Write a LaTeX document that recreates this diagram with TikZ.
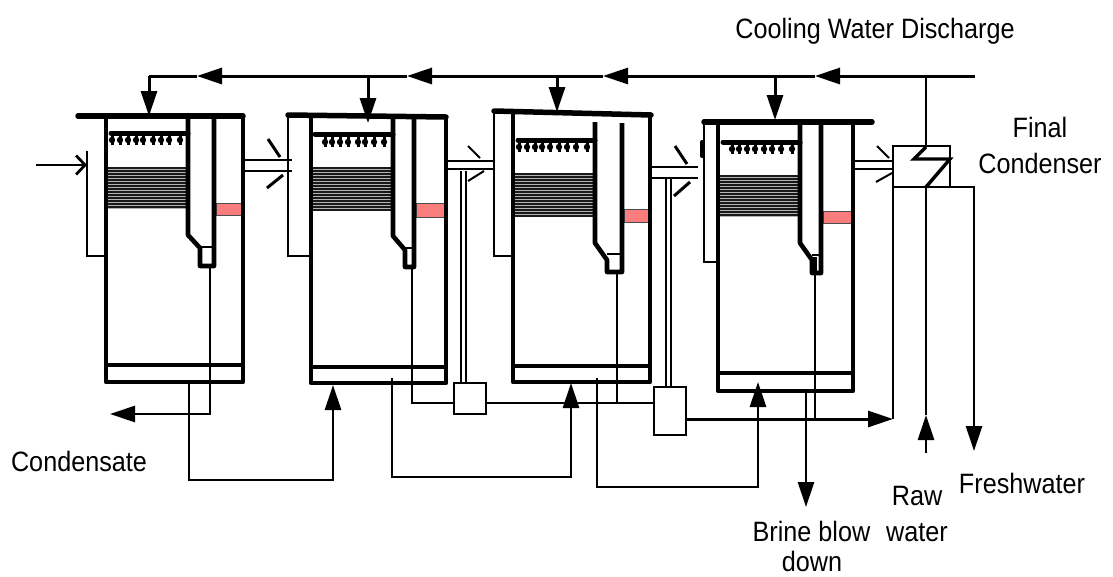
\documentclass[tikz,border=0pt]{standalone}
\usepackage{fontspec}
\setmainfont[FakeStretch=0.9]{Liberation Sans}
\usetikzlibrary{arrows.meta}
\tikzset{
  wall/.style={line width=4.6pt,line join=round},
  roof/.style={line width=5.5pt,line cap=round},
  pipe/.style={line width=2.8pt},
  header/.style={line width=3pt},
  sprayline/.style={line width=5pt,line cap=round},
  coil/.style={line width=2pt,color=black!90},
  coilband/.style={fill=black!30},
  bigarrow/.style={-{Triangle[length=25pt,width=16pt]}},
  trapbox/.style={shape=rectangle,draw,line width=2.8pt,fill=white,inner sep=0pt,outer sep=0pt},
  tag/.style={font=\fontsize{28}{32}\selectfont,inner sep=0pt,anchor=base},
  tick/.style={line width=3pt},
  gauge/.style={fill=gaugepink,draw=black!70,line width=1pt}
}
\definecolor{gaugepink}{RGB}{250,125,125}
\begin{document}
\begin{tikzpicture}[x=1pt,y=-1pt]
\useasboundingbox (0,0) rectangle (1113,576);
% first effect
\draw[gauge] (216,203) rectangle (242,215);
\fill[coilband] (106,167) rectangle (188,209);
\foreach \y in {168,171,...,209} \draw[coil] (106,\y) to (188,\y);
\draw[wall] (106,116) to (106,382) to (243,382) to (243,116);
\draw[wall] (106,365) to (243,365);
\draw[wall] (188,116) to (188,235) to (200,248) to (200,266) to (214,266) to (214,116);
\draw[pipe] (200,247) to (214,247);
\draw[roof] (78,116) to (243,116);
\draw[sprayline] (111,133) to (188,133);
\foreach \x in {112,120,128,136,143,153,161,169,180} {
  \draw[line width=3pt] (\x,134) to (\x,145);
  \fill (\x,140) circle (3.2pt);
}
\draw[pipe] (87,151) to (87,256) to (106,256);
\draw[pipe] (243,160) to (292,160);
\draw[pipe] (243,171) to (292,171);
\draw[tick] (268,139) to (280,157);
\draw[tick] (267,188) to (283,175);
% second effect
\draw[gauge] (416,203) rectangle (445,217);
\fill[coilband] (311,167) rectangle (393,211);
\foreach \y in {168,171,...,211} \draw[coil] (311,\y) to (393,\y);
\draw[wall] (311,116) to (311,383) to (446,383) to (446,116);
\draw[wall] (311,367) to (446,367);
\draw[wall] (393,116) to (393,236) to (405,250) to (405,267) to (414,267) to (414,116);
\draw[pipe] (405,248) to (414,248);
\draw[pipe] (288,116) to (288,256) to (311,256);
\draw[roof] (288,115) to (446,117);
\draw[sprayline] (315,134) to (393,134);
\foreach \x in {325,332,340,348,358,365,374,384} {
  \draw[line width=3pt] (\x,135) to (\x,147);
  \fill (\x,142) circle (3.2pt);
}
\draw[pipe] (446,161) to (493,161);
\draw[pipe] (446,169) to (493,169);
\draw[tick,line width=2pt] (468,146) to (480,158);
\draw[tick,line width=2pt] (468,181) to (484,171);
% third effect
\draw[gauge] (624,209) rectangle (650,222);
\fill[coilband] (513,173) rectangle (595,217);
\foreach \y in {174,177,...,217} \draw[coil] (513,\y) to (595,\y);
\draw[wall] (513,112) to (513,382) to (650,382) to (650,115);
\draw[wall] (513,366) to (650,366);
\draw[wall] (595,122) to (595,243) to (607,260) to (607,272) to (622,272) to (622,123);
\draw[pipe] (607,254) to (622,254);
\draw[pipe] (494,112) to (494,256) to (513,256);
\draw[roof] (494,111) to (651,115);
\draw[sprayline] (518,140) to (595,140);
\foreach \x in {519,527,535,542,550,559,567,576,587} {
  \draw[line width=3pt] (\x,141) to (\x,152);
  \fill (\x,147) circle (3.2pt);
}
\draw[pipe] (650,167) to (698,167);
\draw[pipe] (650,178) to (698,178);
\draw[tick] (675,146) to (687,164);
\draw[tick] (674,196) to (690,182);
% fourth effect
\draw[gauge] (823,211) rectangle (852,223);
\fill[coilband] (718,175) rectangle (800,217);
\foreach \y in {176,179,...,217} \draw[coil] (718,\y) to (800,\y);
\draw[wall] (718,122) to (718,391) to (853,391) to (853,122);
\draw[wall] (718,373) to (853,373);
\draw[wall] (800,122) to (800,243) to (812,260) to (812,273) to (821,273) to (821,122);
\draw[pipe] (812,255) to (821,255);
\draw[line width=4pt] (815,257) to (815,273);
\draw[pipe] (704,122) to (704,262) to (718,262);
\draw[line width=4pt,line cap=round] (702,142) to (702,156);
\draw[roof] (704,122) to (872,122);
\draw[sprayline] (723,142) to (800,142);
\foreach \x in {732,739,747,755,764,772,781,792} {
  \draw[line width=3pt] (\x,143) to (\x,154);
  \fill (\x,149) circle (3.2pt);
}
\draw[pipe,line width=2.2pt] (853,161) to (893,161);
\draw[pipe,line width=2.2pt] (853,169) to (893,169);
\draw[tick,line width=2pt] (877,146) to (889,158);
\draw[tick,line width=2pt] (876,182) to (892,173);

% condenser and flash boxes
\node[trapbox,minimum width=57pt,minimum height=41pt] (condenser) at (921.5,166.5) {};
\node[trapbox,minimum width=32pt,minimum height=31pt] (trapa) at (470,398.5) {};
\node[trapbox,minimum width=32pt,minimum height=48pt] (trapb) at (670,411) {};
\draw[line width=3.4pt] (926,147) to (914,159) to (950,159) to (926,187);

% cooling water header
\coordinate (headstart) at (975,76);
\coordinate (headend) at (149,76);
\coordinate (tapa) at (815,76);
\coordinate (tapb) at (603,76);
\coordinate (tapc) at (407,76);
\coordinate (tapd) at (197,76);
\draw[header,bigarrow] (headstart) to (tapa);
\draw[header,bigarrow] (tapa) to (tapb);
\draw[header,bigarrow] (tapb) to (tapc);
\draw[header,bigarrow] (tapc) to (tapd);
\draw[header] (tapd) to (headend);
\draw[header,bigarrow] (headend) to (149,116);
\draw[header,bigarrow] (368,76) to (368,123);
\draw[header,bigarrow] (557,76) to (557,112);
\draw[header,bigarrow] (775,76) to (775,120);
\draw[pipe] (926,146) to (926,76);

% feed and condensate
\coordinate (inlet) at (36,165);
\draw[pipe,-{Straight Barb[length=9pt,width=19pt]}] (inlet) to (87,165);
\coordinate (condout) at (110,414);
\draw[pipe,bigarrow] (210,266) to (210,414) to (condout);
\draw[pipe,bigarrow] (189,382) to (189,480) to (333,480) to (333,385);
\draw[pipe,bigarrow] (392,378) to (392,477) to (571,477) to (571,383);
\draw[pipe,bigarrow] (597,378) to (597,487) to (758,487) to (758,382);

% distillate line
\draw[pipe] (412,267) to (412,403) to (454,403);
\draw[pipe] (486,403) to (654,403);
\draw[pipe] (617,272) to (617,403);
\draw[header,bigarrow] (686,419) to (893,419);
\draw[pipe] (815,273) to (815,421);
\draw[pipe] (461,171) to (461,383);
\draw[pipe] (466,171) to (466,383);
\draw[pipe] (666,178) to (666,387);
\draw[pipe] (671,178) to (671,387);

% condenser connections
\coordinate (brineout) at (806,507);
\coordinate (rawin) at (926,453);
\coordinate (freshout) at (974,451);
\draw[pipe,bigarrow] (806,391) to (brineout);
\draw[pipe] (condenser.south west) to (893,419);
\draw[pipe] (926,187) to (926,415);
\draw[pipe,bigarrow] (rawin) to (926,415);
\draw[pipe,bigarrow] (condenser.south east) to (974,187) to (freshout);

% labels
\node[tag] (discharge) at (875,38) {Cooling Water Discharge};
\node[tag] (final) at (1040,137) {Final};
\node[tag] (condname) at (1040,173) {Condenser};
\node[tag] (condensate) at (79,471) {Condensate};
\node[tag] (raw) at (917,505) {Raw};
\node[tag] (water) at (917,541) {water};
\node[tag] (fresh) at (1022,493) {Freshwater};
\node[tag] (brine) at (811.5,541) {Brine blow};
\node[tag] (down) at (812,571) {down};
\end{tikzpicture}
\end{document}
